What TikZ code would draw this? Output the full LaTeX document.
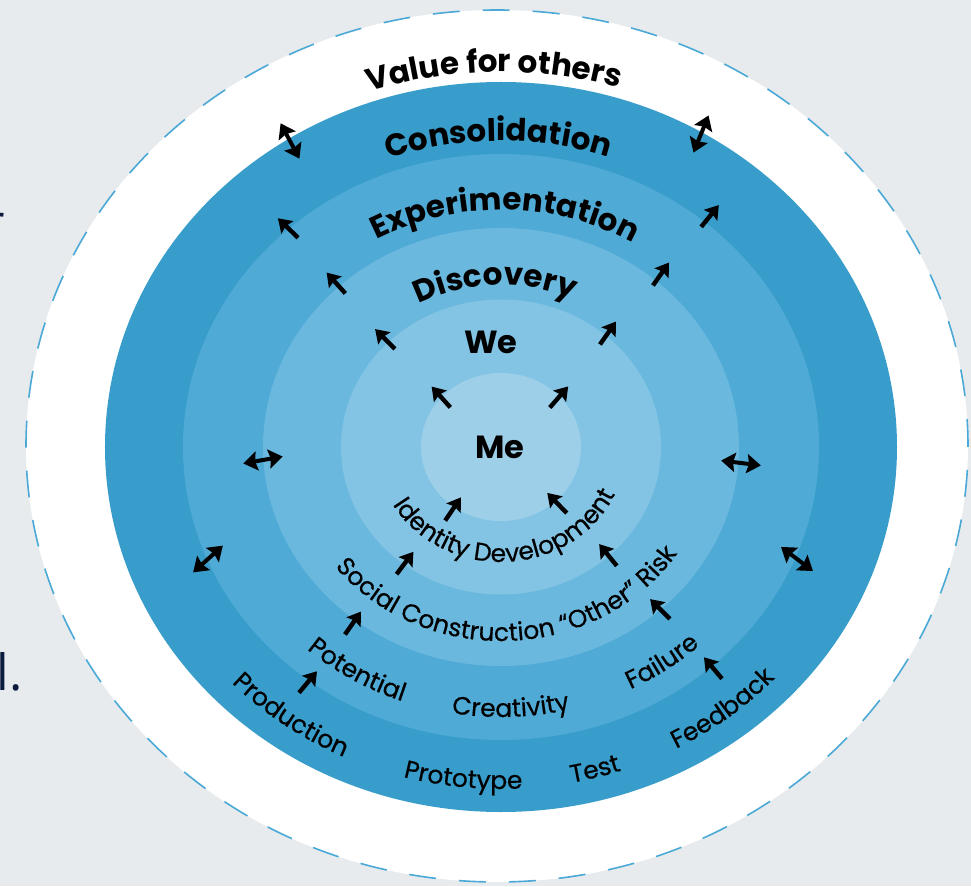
\documentclass[tikz,border=0pt]{standalone}
\usepackage{fontspec}
\setmainfont{Poppins}
\newfontfamily\slidefont{Open Sans}
\newfontfamily\wordface[FakeBold=0.5]{Poppins}
\usetikzlibrary{arrows.meta,decorations.text}
\definecolor{backgr}{HTML}{E7EBED}
\definecolor{dashblue}{HTML}{4AA9D6}
\definecolor{ringa}{HTML}{389DCB}
\definecolor{ringb}{HTML}{4FAAD6}
\definecolor{ringc}{HTML}{6AB8DE}
\definecolor{ringd}{HTML}{83C4E4}
\definecolor{ringe}{HTML}{9ECFE9}
\definecolor{slide}{HTML}{0B1B3D}
\newcommand\ringfont{\fontsize{31}{31}\selectfont\bfseries}
\newcommand\wordfont{\wordface\fontsize{25}{25}\selectfont}
\tikzset{
  toptext/.style={decorate,decoration={text along path,text align=center,text={|\ringfont|#1}}},
  lowtext/.style={decorate,decoration={text along path,text align=center,text={|\wordfont|#1}}},
  outarrow/.style={line width=4.4pt,-{Stealth[length=13pt,width=17pt,inset=2pt]}},
  twoarrow/.style={line width=4pt,{Stealth[length=14pt,width=19pt,inset=2pt]}-{Stealth[length=14pt,width=19pt,inset=2pt]}},
}

\begin{document}
\begin{tikzpicture}[x=1pt,y=1pt]
  \useasboundingbox (-501,-439) rectangle (470,447);
  \clip (-501,-439) rectangle (470,447);
  \fill[backgr] (-501,-439) rectangle (470,447);

  \node[font=\slidefont\fontsize{50}{50}\selectfont,text=slide,anchor=base east,inner sep=0] (frag r) at (-496,206) {r};
  \node[font=\slidefont\fontsize{50}{50}\selectfont,text=slide,anchor=base west,inner sep=0] (frag l) at (-504.5,-243) {l.};

  \filldraw[fill=white,draw=dashblue,line width=1.6pt,dash pattern=on 27pt off 23pt]
    (-4,1) ellipse [x radius=471,y radius=436];
  \fill[ringa] (0,0) ellipse [x radius=396,y radius=365];
  \fill[ringb] (0,0) ellipse [x radius=318,y radius=293];
  \fill[ringc] (0,0) ellipse [x radius=238,y radius=219];
  \fill[ringd] (0,0) ellipse [x radius=160,y radius=147.5];
  \fill[ringe] (0,0) ellipse [x radius=80,y radius=74];

  \path[toptext={Value for others}] (136:408pt and 375pt) arc[start angle=136,end angle=46,x radius=408pt,y radius=375pt];
  \path[toptext=Consolidation] (140:333pt and 306pt) arc[start angle=140,end angle=41,x radius=333pt,y radius=306pt];
  \path[toptext=Experimentation] (149:258pt and 237pt) arc[start angle=149,end angle=29,x radius=258pt,y radius=237pt];
  \path[toptext=Discovery] (152:176pt and 162pt) arc[start angle=152,end angle=32,x radius=176pt,y radius=162pt];

  \node[font=\fontsize{32}{32}\selectfont\bfseries] (we) at (-10,105) {We};
  \node[font=\fontsize{32}{32}\selectfont\bfseries] (me) at (-1,0) {Me};

  \path[lowtext={Identity Development}] (188:125pt and 115pt) arc[start angle=188,end angle=358,x radius=125pt,y radius=115pt];
  \path[lowtext={Social Construction “Other” Risk}] (190:211pt and 194pt) arc[start angle=190,end angle=355,x radius=211pt,y radius=194pt];
  \path[lowtext=Potential] (209:293pt and 270pt) arc[start angle=209,end angle=269,x radius=293pt,y radius=270pt];
  \path[lowtext=Creativity] (242:293pt and 270pt) arc[start angle=242,end angle=302,x radius=293pt,y radius=270pt];
  \path[lowtext=Failure] (275:293pt and 270pt) arc[start angle=275,end angle=335,x radius=293pt,y radius=270pt];
  \path[lowtext=Production] (209:372pt and 342pt) arc[start angle=209,end angle=259,x radius=372pt,y radius=342pt];
  \path[lowtext=Prototype] (244:372pt and 342pt) arc[start angle=244,end angle=284,x radius=372pt,y radius=342pt];
  \path[lowtext=Test] (270:372pt and 342pt) arc[start angle=270,end angle=300,x radius=372pt,y radius=342pt];
  \path[lowtext=Feedback] (288:372pt and 342pt) arc[start angle=288,end angle=328,x radius=372pt,y radius=342pt];

  \foreach \px/\py/\ang in {-60/50/132,-116/108/135,-165/164/132,-213/219/136,
      58/50/49,107/114/55,160/173/55,209/231/51,
      -48/-62/56,-96/-116/53,-148/-176/55,-193/-235/50,
      56/-56/134,107/-108/129,159/-162/135,212/-221/130}
    \draw[outarrow] ([shift={(\ang+180:14)}]\px,\py) -- ++(\ang:28);

  \foreach \px/\py/\ang in {-211/306/118,200/313/68,-238/-13/10,
      240/-16/-7,-293/-112/42,296/-112/-37}
    \draw[twoarrow] ([shift={(\ang+180:20)}]\px,\py) -- ++(\ang:40);
\end{tikzpicture}
\end{document}
